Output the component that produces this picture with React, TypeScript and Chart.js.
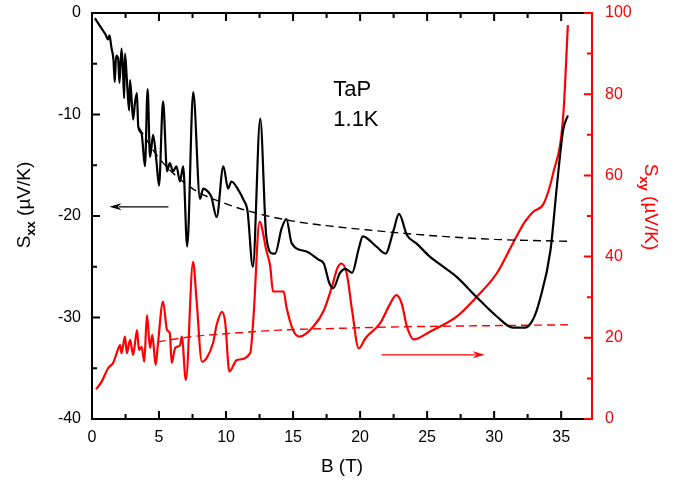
import React, { useEffect, useRef } from 'react';
import { Chart, registerables } from 'chart.js';
Chart.register(...registerables);

// S_xx (left axis, µV/K) vs B (T)
const sxxB = [0.22, 0.6, 1.0, 1.2, 1.3, 1.45, 1.6, 1.7, 1.8, 1.95, 2.05, 2.2, 2.3, 2.4, 2.46, 2.6, 2.77, 2.84, 3.07, 3.2, 3.35, 3.45, 3.7, 3.95, 4.15, 4.33, 4.56, 4.8, 5.0, 5.3, 5.6, 5.8, 6.05, 6.3, 6.56, 6.8, 7.1, 7.55, 8.06, 8.3, 8.66, 8.9, 9.3, 9.8, 10.15, 10.4, 10.9, 11.3, 11.6, 12.0, 12.55, 13.0, 13.5, 13.66, 14.15, 14.5, 14.9, 16.0, 16.9, 17.3, 17.7, 18.0, 18.5, 18.9, 19.4, 19.9, 20.2, 21.2, 21.9, 22.5, 22.9, 23.5, 24.2, 25.2, 26.0, 27.2, 28.7, 30.2, 31.4, 32.3, 32.9, 33.4, 34.2, 34.7, 35.15, 35.5];
const sxxV = [-0.5, -1.3, -2.1, -2.6, -2.2, -3.4, -4.6, -6.8, -4.2, -4.5, -6.9, -3.5, -5.3, -8.4, -4.0, -6.5, -9.6, -6.6, -10.5, -8.9, -7.9, -11.2, -11.9, -15.1, -7.5, -14.2, -12.0, -14.5, -17.0, -8.7, -15.6, -14.8, -15.6, -15.1, -16.6, -15.1, -23.0, -7.8, -18.3, -17.3, -17.6, -18.1, -20.1, -15.1, -17.3, -16.6, -17.4, -18.4, -19.5, -25.0, -10.4, -22.0, -23.7, -23.7, -21.2, -20.3, -22.7, -23.5, -24.3, -24.7, -26.6, -27.1, -25.6, -25.2, -25.6, -23.2, -22.0, -23.0, -23.7, -21.4, -19.8, -21.9, -22.7, -24.0, -24.8, -26.0, -28.0, -29.9, -31.0, -31.0, -30.2, -28.3, -23.4, -16.8, -11.5, -10.1];

// S_xx background (dashed black)
const sxxFitB = [3.5, 5.0, 7.5, 10.0, 12.5, 15.0, 17.8, 20.0, 25.0, 30.0, 35.7];
const sxxFitV = [-11.3, -14.3, -17.3, -18.8, -19.8, -20.5, -21.0, -21.3, -21.9, -22.3, -22.5];

// S_xy (right axis, µV/K) vs B (T)
const sxyB = [0.3, 0.72, 1.2, 1.57, 1.84, 2.1, 2.2, 2.46, 2.6, 2.84, 3.07, 3.36, 3.5, 3.7, 3.9, 4.1, 4.33, 4.5, 4.75, 4.9, 5.3, 5.6, 5.8, 5.95, 6.2, 6.57, 6.7, 7.0, 7.54, 7.8, 8.2, 8.55, 9.03, 9.3, 9.7, 9.93, 10.25, 10.8, 11.8, 12.05, 12.5, 13.0, 13.3, 13.5, 14.3, 14.5, 15.0, 15.5, 16.5, 17.3, 17.9, 18.3, 18.6, 19.0, 19.4, 19.9, 20.4, 21.5, 22.2, 22.7, 23.1, 23.5, 24.0, 25.2, 27.2, 28.7, 30.2, 31.4, 32.3, 32.9, 33.7, 34.4, 35.15, 35.5];
const sxyV = [7.3, 9.2, 12.5, 13.8, 16.2, 18.2, 16.2, 20.3, 16.2, 19.5, 15.8, 21.9, 17.0, 17.8, 14.1, 25.6, 17.5, 20.7, 13.3, 17.8, 28.9, 21.9, 21.2, 13.8, 17.5, 18.2, 20.3, 9.6, 38.7, 29.3, 14.1, 15.0, 18.7, 23.2, 26.4, 24.0, 11.7, 14.5, 16.2, 25.2, 48.6, 41.6, 37.5, 31.4, 31.4, 27.7, 21.9, 20.3, 22.7, 26.8, 32.6, 37.1, 38.3, 35.9, 26.8, 17.4, 19.9, 23.6, 28.1, 30.5, 28.5, 22.7, 19.6, 21.5, 25.2, 30.1, 35.9, 43.3, 48.6, 51.0, 53.1, 60.5, 74.5, 97.0];

// S_xy background (dashed red)
const sxyFitB = [4.9, 7.5, 10.0, 14.0, 18.0, 23.0, 30.0, 35.5];
const sxyFitV = [19.0, 20.3, 21.0, 21.9, 22.3, 22.7, 23.0, 23.2];

// Ticks
const xMajor = [0, 5, 10, 15, 20, 25, 30, 35];
const xMinor = [2.5, 7.5, 12.5, 17.5, 22.5, 27.5, 32.5];
const yMajor = [-40, -30, -20, -10, 0];
const yMinor = [-35, -25, -15, -5];
const y1Major = [0, 20, 40, 60, 80, 100];
const y1Minor = [10, 30, 50, 70, 90];

// Annotations (data coords)
const labelTexts = ['TaP', '1.1K'];
const labelX = [18.0, 18.0];
const labelY = [-8.2, -11.1];
const blackArrow = { from: 5.7, to: 1.3, y: -19.1 };
const redArrow = { from: 21.6, to: 29.3, y: 15.8 };

const RED = '#ff0000';
const FONT = "'Liberation Sans', Arial, sans-serif";

const pts = (xs: number[], ys: number[]) => xs.map((x, i) => ({ x, y: ys[i] }));

function drawArrow(ctx: CanvasRenderingContext2D, x1: number, x2: number, y: number, color: string) {
  const dir = x2 > x1 ? 1 : -1;
  const headLen = 12;
  const headHalf = 3.5;
  ctx.save();
  ctx.strokeStyle = color;
  ctx.fillStyle = color;
  ctx.lineWidth = 1.3;
  ctx.beginPath();
  ctx.moveTo(x1, y);
  ctx.lineTo(x2 - dir * headLen * 0.8, y);
  ctx.stroke();
  ctx.beginPath();
  ctx.moveTo(x2, y);
  ctx.lineTo(x2 - dir * headLen, y - headHalf);
  ctx.lineTo(x2 - dir * headLen * 0.7, y);
  ctx.lineTo(x2 - dir * headLen, y + headHalf);
  ctx.closePath();
  ctx.fill();
  ctx.restore();
}

function drawSubTitle(ctx: CanvasRenderingContext2D, main: string, sub: string, rest: string, color: string) {
  const mainFont = `19px ${FONT}`;
  const subFont = `bold 13px ${FONT}`;
  ctx.font = mainFont;
  const w1 = ctx.measureText(main).width;
  const w3 = ctx.measureText(rest).width;
  ctx.font = subFont;
  const w2 = ctx.measureText(sub).width;
  const total = w1 + w2 + w3;
  let x = -total / 2;
  ctx.fillStyle = color;
  ctx.textBaseline = 'alphabetic';
  ctx.textAlign = 'left';
  ctx.font = mainFont;
  ctx.fillText(main, x, 7);
  x += w1;
  ctx.font = subFont;
  ctx.fillText(sub, x, 12);
  x += w2;
  ctx.font = mainFont;
  ctx.fillText(rest, x, 7);
}

const decorPlugin = {
  id: 'decor',
  afterDraw(chart: any) {
    const ctx: CanvasRenderingContext2D = chart.ctx;
    const { left, right, top, bottom } = chart.chartArea;
    const xs = chart.scales.x;
    const ys = chart.scales.y;
    const y1s = chart.scales.y1;
    ctx.save();
    // top border
    ctx.strokeStyle = '#000';
    ctx.lineWidth = 2;
    ctx.beginPath();
    ctx.moveTo(left - 1, top);
    ctx.lineTo(right, top);
    ctx.stroke();

    const MAJ = 8;
    const MIN = 5;
    ctx.lineWidth = 2;
    // x ticks
    ctx.strokeStyle = '#000';
    ctx.beginPath();
    xMajor.forEach((v) => {
      const p = xs.getPixelForValue(v);
      ctx.moveTo(p, bottom);
      ctx.lineTo(p, bottom - MAJ);
      ctx.moveTo(p, top);
      ctx.lineTo(p, top + MAJ);
    });
    xMinor.forEach((v) => {
      const p = xs.getPixelForValue(v);
      ctx.moveTo(p, bottom);
      ctx.lineTo(p, bottom - MIN);
      ctx.moveTo(p, top);
      ctx.lineTo(p, top + MIN);
    });
    // left y ticks
    yMajor.forEach((v) => {
      const p = ys.getPixelForValue(v);
      ctx.moveTo(left, p);
      ctx.lineTo(left + MAJ, p);
    });
    yMinor.forEach((v) => {
      const p = ys.getPixelForValue(v);
      ctx.moveTo(left, p);
      ctx.lineTo(left + MIN, p);
    });
    ctx.stroke();
    // right y ticks
    ctx.strokeStyle = RED;
    ctx.beginPath();
    y1Major.forEach((v) => {
      const p = y1s.getPixelForValue(v);
      ctx.moveTo(right, p);
      ctx.lineTo(right - MAJ, p);
    });
    y1Minor.forEach((v) => {
      const p = y1s.getPixelForValue(v);
      ctx.moveTo(right, p);
      ctx.lineTo(right - MIN, p);
    });
    ctx.stroke();

    // arrows
    drawArrow(ctx, xs.getPixelForValue(blackArrow.from), xs.getPixelForValue(blackArrow.to), ys.getPixelForValue(blackArrow.y), '#000');
    drawArrow(ctx, xs.getPixelForValue(redArrow.from), xs.getPixelForValue(redArrow.to), y1s.getPixelForValue(redArrow.y), RED);

    // labels
    ctx.fillStyle = '#000';
    ctx.font = `22px ${FONT}`;
    ctx.textAlign = 'left';
    ctx.textBaseline = 'alphabetic';
    labelTexts.forEach((t, i) => {
      ctx.fillText(t, xs.getPixelForValue(labelX[i]), ys.getPixelForValue(labelY[i]));
    });

    // x title
    ctx.font = `19px ${FONT}`;
    ctx.textAlign = 'center';
    ctx.textBaseline = 'middle';
    ctx.fillText('B (T)', (left + right) / 2, 467);

    // left title
    ctx.save();
    ctx.translate(23, 205);
    ctx.rotate(-Math.PI / 2);
    drawSubTitle(ctx, 'S', 'xx', ' (\u00b5V/K)', '#000');
    ctx.restore();

    // right title
    ctx.save();
    ctx.translate(652, 207);
    ctx.rotate(Math.PI / 2);
    drawSubTitle(ctx, 'S', 'xy', ' (\u00b5V/K)', RED);
    ctx.restore();

    ctx.restore();
  },
};

const fixV = (w: number) => (s: any) => {
  s.width = w;
  s.paddingTop = 0;
  s.paddingBottom = 0;
};

export default function App() {
  const ref = useRef<HTMLCanvasElement | null>(null);
  useEffect(() => {
    document.body.style.margin = '0';
    if (!ref.current) return;
    const chart = new Chart(ref.current, {
      type: 'line',
      data: {
        datasets: [
          {
            label: 'Sxx',
            data: pts(sxxB, sxxV),
            borderColor: '#000',
            borderWidth: 2.2,
            pointRadius: 0,
            cubicInterpolationMode: 'monotone',
            yAxisID: 'y',
          },
          {
            label: 'Sxx fit',
            data: pts(sxxFitB, sxxFitV),
            borderColor: '#000',
            borderWidth: 1.4,
            borderDash: [8, 5],
            pointRadius: 0,
            cubicInterpolationMode: 'monotone',
            yAxisID: 'y',
          },
          {
            label: 'Sxy',
            data: pts(sxyB, sxyV),
            borderColor: RED,
            borderWidth: 2.2,
            pointRadius: 0,
            cubicInterpolationMode: 'monotone',
            yAxisID: 'y1',
          },
          {
            label: 'Sxy fit',
            data: pts(sxyFitB, sxyFitV),
            borderColor: RED,
            borderWidth: 1.4,
            borderDash: [8, 5],
            pointRadius: 0,
            cubicInterpolationMode: 'monotone',
            yAxisID: 'y1',
          },
        ],
      },
      options: {
        animation: false,
        responsive: false,
        events: [],
        layout: { padding: { top: 13, left: 0, right: 0, bottom: 0 } },
        plugins: { legend: { display: false }, tooltip: { enabled: false }, title: { display: false } },
        scales: {
          x: {
            type: 'linear',
            min: 0,
            max: 37.3,
            afterFit: (s: any) => { s.height = 62; s.paddingLeft = 0; s.paddingRight = 0; },
            grid: { display: false, drawTicks: false },
            border: { display: true, color: '#000', width: 2 },
            ticks: { stepSize: 5, includeBounds: false, color: '#000', padding: 9, font: { family: FONT, size: 16 } },
          },
          y: {
            type: 'linear',
            position: 'left',
            min: -40,
            max: 0,
            afterFit: fixV(92),
            grid: { display: false, drawTicks: false },
            border: { display: true, color: '#000', width: 2 },
            ticks: { stepSize: 10, color: '#000', padding: 11, font: { family: FONT, size: 16 } },
          },
          y1: {
            type: 'linear',
            position: 'right',
            min: 0,
            max: 100,
            afterFit: fixV(97),
            grid: { display: false, drawTicks: false },
            border: { display: true, color: RED, width: 2 },
            ticks: { stepSize: 20, color: RED, padding: 13, font: { family: FONT, size: 16 } },
          },
        },
      },
      plugins: [decorPlugin],
    } as any);
    return () => chart.destroy();
  }, []);
  return (
    <div style={{ width: 689, height: 481 }}>
      <canvas ref={ref} width={689} height={481} style={{ display: 'block' }} />
    </div>
  );
}
